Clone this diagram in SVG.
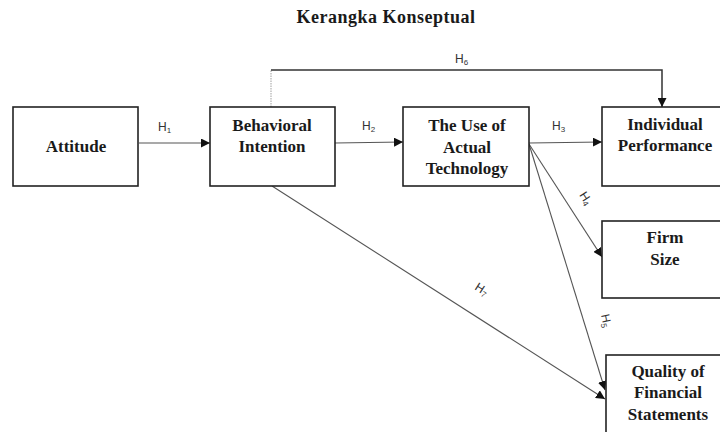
<svg xmlns="http://www.w3.org/2000/svg" width="720" height="432" viewBox="0 0 720 432">
<defs>
<marker id="arr" viewBox="0 0 10 10" refX="10" refY="5" markerWidth="9" markerHeight="9" markerUnits="userSpaceOnUse" orient="auto">
<path d="M0,0 L10,5 L0,10 z" fill="#111"/>
</marker>
<style>
.box{fill:#fff;stroke:#222;stroke-width:1.6}
.nt{font-family:"Liberation Serif","Times New Roman",serif;font-weight:bold;font-size:17px;fill:#1a1a1a;text-anchor:middle}
.ln{fill:none;stroke:#555;stroke-width:1.1}
.lb{font-family:"Liberation Sans",Arial,sans-serif;font-size:12px;fill:#333}
.sub{font-size:8px}
</style>
</defs>
<rect width="720" height="432" fill="#fff"/>
<text x="386" y="23" class="nt" style="font-size:18px;letter-spacing:0.5px">Kerangka Konseptual</text>

<g id="connectors">
<line class="ln" x1="139" y1="143" x2="210" y2="143" marker-end="url(#arr)"/>
<line class="ln" x1="335" y1="143" x2="403" y2="142" marker-end="url(#arr)"/>
<line class="ln" x1="529" y1="143" x2="602" y2="142" marker-end="url(#arr)"/>
<line x1="271" y1="107" x2="271" y2="70" stroke="#777" stroke-width="0.7" stroke-dasharray="1.5,1"/>
<polyline fill="none" stroke="#333" stroke-width="1.5" points="271,70 662,70 662,107" marker-end="url(#arr)"/>
<line class="ln" x1="529" y1="144" x2="602" y2="257" marker-end="url(#arr)"/>
<line class="ln" x1="529" y1="144" x2="605" y2="390" marker-end="url(#arr)"/>
<line class="ln" x1="272" y1="186" x2="605" y2="399" marker-end="url(#arr)"/>
<text class="lb" x="158" y="131">H<tspan class="sub" dy="2">1</tspan></text>
<text class="lb" x="362" y="130">H<tspan class="sub" dy="2">2</tspan></text>
<text class="lb" x="552" y="130">H<tspan class="sub" dy="2">3</tspan></text>
<text class="lb" x="455" y="63">H<tspan class="sub" dy="2">6</tspan></text>
<text class="lb" transform="translate(579,195) rotate(57)">H<tspan class="sub" dy="2">4</tspan></text>
<text class="lb" transform="translate(601,315) rotate(78)">H<tspan class="sub" dy="2">5</tspan></text>
<text class="lb" transform="translate(474,289) rotate(33)">H<tspan class="sub" dy="2">7</tspan></text>
</g>

<g id="attitude">
<rect class="box" x="13" y="107" width="125" height="79"/>
<text class="nt" x="76" y="152">Attitude</text>
</g>
<g id="behavioral-intention">
<rect class="box" x="210" y="107" width="125" height="79"/>
<text class="nt" x="272" y="131">Behavioral</text>
<text class="nt" x="272" y="152">Intention</text>
</g>
<g id="use-actual-technology">
<rect class="box" x="403" y="107" width="126" height="79"/>
<text class="nt" x="467" y="131">The Use of</text>
<text class="nt" x="467" y="152.5">Actual</text>
<text class="nt" x="467" y="174">Technology</text>
</g>
<g id="individual-performance">
<rect class="box" x="602" y="107" width="125" height="79"/>
<text class="nt" x="665" y="130">Individual</text>
<text class="nt" x="665" y="151">Performance</text>
</g>
<g id="firm-size">
<rect class="box" x="602" y="221" width="125" height="77"/>
<text class="nt" x="665" y="243">Firm</text>
<text class="nt" x="665" y="265">Size</text>
</g>
<g id="quality-financial-statements">
<rect class="box" x="606" y="355" width="125" height="90"/>
<text class="nt" x="668" y="377">Quality of</text>
<text class="nt" x="668" y="398">Financial</text>
<text class="nt" x="668" y="420">Statements</text>
</g>
</svg>
